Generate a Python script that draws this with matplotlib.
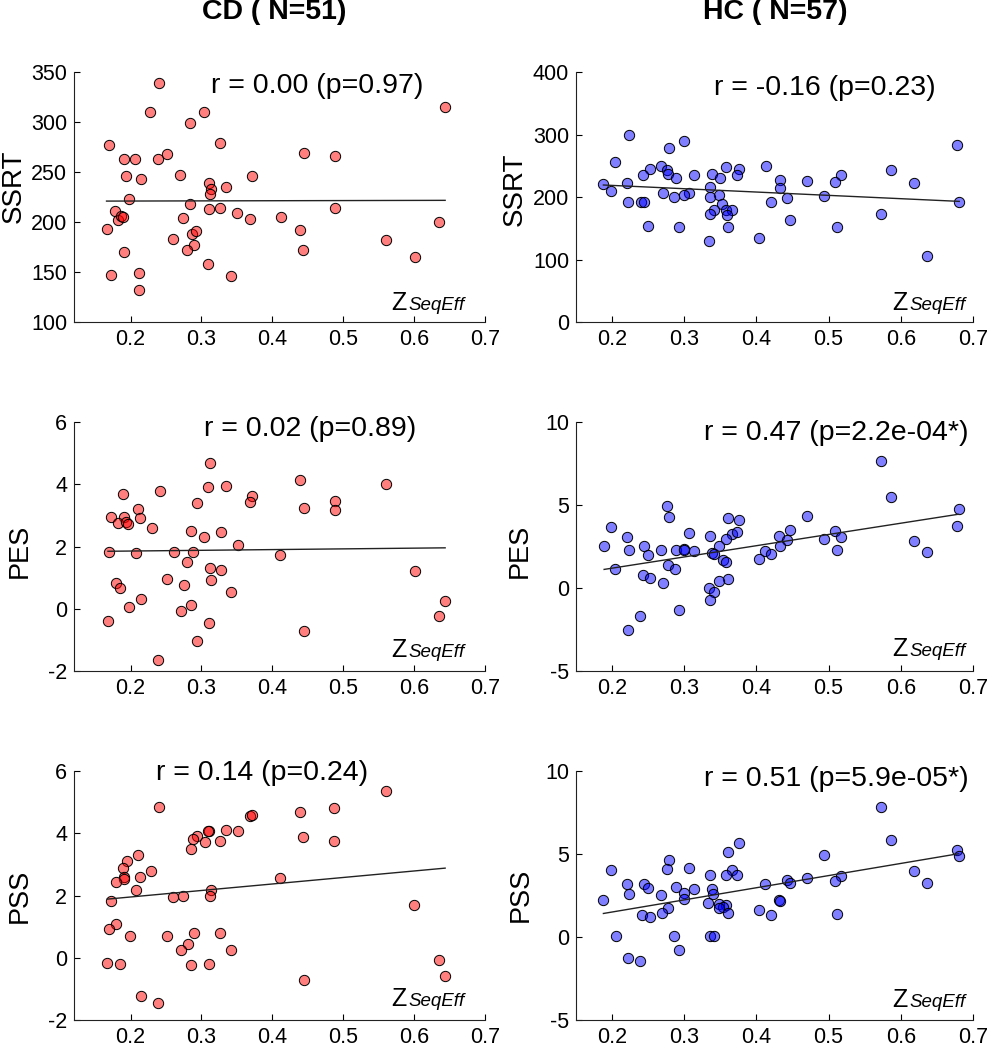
import numpy as np
import matplotlib
matplotlib.use('Agg')
import matplotlib.pyplot as plt

matplotlib.rcParams['font.family'] = ['Liberation Sans', 'DejaVu Sans']
matplotlib.rcParams['axes.unicode_minus'] = False

# ---- CD group (N=51) ----
cd_ssrt_x = [0.240, 0.228, 0.304, 0.284, 0.644, 0.169, 0.326, 0.190, 0.206, 0.238,
             0.252, 0.445, 0.488, 0.194, 0.214, 0.270, 0.371, 0.311, 0.334, 0.313,
             0.312, 0.198, 0.178, 0.182, 0.186, 0.189, 0.284, 0.310, 0.326, 0.350,
             0.274, 0.368, 0.412, 0.488, 0.636, 0.166, 0.439, 0.286, 0.293, 0.260,
             0.290, 0.280, 0.191, 0.444, 0.561, 0.601, 0.309, 0.172, 0.212, 0.341,
             0.212]
cd_ssrt_y = [339, 310, 310, 299, 315, 277, 279, 263, 263, 263,
             268, 269, 266, 246, 243, 247, 246, 239, 235, 233,
             228, 223, 211, 202, 206, 205, 218, 213, 214, 209,
             204, 203, 205, 214, 200, 193, 192, 188, 191, 183,
             177, 172, 170, 172, 182, 165, 158, 147, 149, 146,
             132]

cd_pes_x = [0.312, 0.439, 0.561, 0.309, 0.335, 0.241, 0.189, 0.371, 0.368, 0.294,
            0.445, 0.488, 0.488, 0.172, 0.211, 0.213, 0.191, 0.182, 0.193, 0.196,
            0.230, 0.285, 0.327, 0.304, 0.352, 0.170, 0.207, 0.261, 0.288, 0.411,
            0.280, 0.312, 0.327, 0.601, 0.251, 0.313, 0.179, 0.185, 0.275, 0.341,
            0.215, 0.644, 0.198, 0.285, 0.271, 0.168, 0.311, 0.636, 0.445, 0.294,
            0.239]
cd_pes_y = [4.68, 4.14, 3.99, 3.90, 3.94, 3.78, 3.69, 3.61, 3.44, 3.40,
            3.24, 3.47, 3.16, 2.95, 3.20, 2.91, 2.96, 2.74, 2.77, 2.71,
            2.59, 2.50, 2.46, 2.31, 2.06, 1.84, 1.80, 1.84, 1.83, 1.72,
            1.51, 1.30, 1.26, 1.21, 0.97, 0.93, 0.82, 0.68, 0.77, 0.54,
            0.33, 0.26, 0.05, 0.12, -0.08, -0.37, -0.44, -0.22, -0.70, -1.02,
            -1.62]

cd_pss_x = [0.561, 0.240, 0.487, 0.439, 0.369, 0.371, 0.444, 0.487, 0.311, 0.309,
            0.335, 0.351, 0.294, 0.288, 0.305, 0.326, 0.285, 0.211, 0.195, 0.189,
            0.229, 0.213, 0.191, 0.190, 0.180, 0.411, 0.207, 0.313, 0.312, 0.260,
            0.274, 0.172, 0.600, 0.179, 0.169, 0.199, 0.252, 0.289, 0.326, 0.281,
            0.271, 0.341, 0.167, 0.185, 0.285, 0.311, 0.636, 0.644, 0.445, 0.215,
            0.238]
cd_pss_y = [5.36, 4.83, 4.81, 4.66, 4.54, 4.57, 3.89, 3.74, 4.06, 4.08,
            4.10, 4.08, 3.90, 3.80, 3.72, 3.76, 3.50, 3.30, 3.12, 2.88,
            2.79, 2.60, 2.58, 2.54, 2.43, 2.55, 2.18, 2.18, 2.00, 1.96,
            1.98, 1.84, 1.69, 1.10, 0.93, 0.71, 0.69, 0.81, 0.79, 0.45,
            0.27, 0.26, -0.17, -0.19, -0.21, -0.18, -0.07, -0.56, -0.71, -1.23,
            -1.45]

# ---- HC group (N=57) ----
hc_ssrt_x = [0.224, 0.300, 0.279, 0.678, 0.204, 0.268, 0.413, 0.358, 0.252, 0.376,
             0.587, 0.276, 0.277, 0.243, 0.313, 0.339, 0.373, 0.517, 0.349, 0.288,
             0.432, 0.188, 0.220, 0.470, 0.509, 0.618, 0.336, 0.432, 0.199, 0.270,
             0.306, 0.300, 0.348, 0.336, 0.286, 0.443, 0.493, 0.222, 0.240, 0.244,
             0.681, 0.420, 0.352, 0.341, 0.358, 0.366, 0.335, 0.359, 0.573, 0.250,
             0.293, 0.360, 0.511, 0.446, 0.334, 0.404, 0.637]
hc_ssrt_y = [300, 290, 279, 283, 256, 250, 250, 248, 245, 245,
             244, 243, 237, 235, 236, 237, 236, 235, 231, 230,
             227, 221, 223, 225, 224, 223, 216, 215, 209, 207,
             207, 204, 203, 200, 200, 199, 202, 192, 192, 192,
             192, 192, 189, 179, 180, 180, 173, 172, 173, 153,
             152, 152, 152, 164, 130, 135, 106]

hc_pes_x = [0.573, 0.587, 0.276, 0.279, 0.680, 0.470, 0.360, 0.376, 0.678, 0.199,
            0.446, 0.509, 0.306, 0.366, 0.373, 0.431, 0.335, 0.220, 0.517, 0.358,
            0.442, 0.493, 0.618, 0.189, 0.244, 0.348, 0.432, 0.224, 0.268, 0.288,
            0.299, 0.300, 0.314, 0.412, 0.511, 0.637, 0.339, 0.341, 0.250, 0.420,
            0.404, 0.353, 0.358, 0.277, 0.287, 0.204, 0.243, 0.253, 0.360, 0.348,
            0.270, 0.334, 0.341, 0.336, 0.293, 0.239, 0.222]
hc_pes_y = [7.64, 5.45, 4.94, 4.29, 4.78, 4.31, 4.19, 4.09, 3.74, 3.66,
            3.50, 3.44, 3.31, 3.27, 3.37, 3.13, 3.13, 3.05, 3.09, 2.93,
            2.91, 2.95, 2.85, 2.54, 2.54, 2.52, 2.52, 2.32, 2.30, 2.32,
            2.38, 2.30, 2.22, 2.26, 2.32, 2.20, 2.11, 2.03, 1.99, 2.07,
            1.77, 1.69, 1.57, 1.40, 1.18, 1.18, 0.81, 0.61, 0.55, 0.41,
            0.30, 0.00, -0.22, -0.69, -1.30, -1.67, -2.50]

hc_pss_x = [0.573, 0.587, 0.376, 0.360, 0.678, 0.680, 0.493, 0.279, 0.276, 0.306,
            0.199, 0.366, 0.618, 0.335, 0.358, 0.373, 0.470, 0.517, 0.509, 0.442,
            0.446, 0.637, 0.412, 0.220, 0.244, 0.250, 0.288, 0.314, 0.338, 0.224,
            0.300, 0.340, 0.268, 0.299, 0.188, 0.431, 0.432, 0.333, 0.348, 0.358,
            0.353, 0.278, 0.348, 0.404, 0.360, 0.242, 0.252, 0.269, 0.420, 0.511,
            0.205, 0.286, 0.336, 0.341, 0.293, 0.222, 0.238]
hc_pss_y = [7.82, 5.86, 5.63, 5.09, 5.21, 4.89, 4.93, 4.62, 4.12, 4.16,
            4.02, 4.04, 4.00, 3.73, 3.75, 3.75, 3.55, 3.67, 3.39, 3.45,
            3.27, 3.27, 3.17, 3.17, 3.19, 2.93, 2.99, 2.88, 2.90, 2.60,
            2.66, 2.62, 2.54, 2.30, 2.24, 2.24, 2.20, 2.08, 2.00, 1.91,
            1.83, 1.77, 1.73, 1.63, 1.43, 1.35, 1.23, 1.43, 1.33, 1.41,
            0.05, 0.09, 0.10, 0.05, -0.79, -1.26, -1.40]

row_labels = ['SSRT', 'PES', 'PSS']
cd_stats = ['r = 0.00 (p=0.97)', 'r = 0.02 (p=0.89)', 'r = 0.14 (p=0.24)']
hc_stats = ['r = -0.16 (p=0.23)', 'r = 0.47 (p=2.2e-04*)', 'r = 0.51 (p=5.9e-05*)']
cd_yticks = [[100, 150, 200, 250, 300, 350], [-2, 0, 2, 4, 6], [-2, 0, 2, 4, 6]]
hc_yticks = [[0, 100, 200, 300, 400], [-5, 0, 5, 10], [-5, 0, 5, 10]]
xticks = [0.2, 0.3, 0.4, 0.5, 0.6, 0.7]

cd_data = [(cd_ssrt_x, cd_ssrt_y), (cd_pes_x, cd_pes_y), (cd_pss_x, cd_pss_y)]
hc_data = [(hc_ssrt_x, hc_ssrt_y), (hc_pes_x, hc_pes_y), (hc_pss_x, hc_pss_y)]

W, H = 990, 1050
fig = plt.figure(figsize=(W / 100, H / 100), dpi=100)

row_bottoms = [0.6933, 0.3605, 0.0281]
row_h = 0.238
label_size = [20, 19.5, 19.5]
cols = [dict(left=0.0747, width=0.415, data=cd_data, yt=cd_yticks, stats=cd_stats,
             face=(1, 0, 0, 0.5), xmin=0.12, zx=0.772, zy=[0.048, 0.058, 0.058],
             lab=[(14, 186), (20, 551), (20, 896)],
             stat_pos=[(0.593, 0.944), (0.574, 0.972), (0.457, 0.99)]),
        dict(left=0.5818, width=0.401, data=hc_data, yt=hc_yticks, stats=hc_stats,
             face=(0, 0, 1, 0.5), xmin=0.15, zx=0.796, zy=[0.05, 0.062, 0.055],
             lab=[(515, 189), (520, 551), (521, 895)],
             stat_pos=[(0.628, 0.937), (0.655, 0.953), (0.655, 0.968)])]

for c in cols:
    for i in range(3):
        ax = fig.add_axes([c['left'], row_bottoms[i], c['width'], row_h])
        x = np.array(c['data'][i][0])
        y = np.array(c['data'][i][1])
        ax.scatter(x, y, s=55, facecolors=[c['face']], edgecolors='k', linewidths=0.7, zorder=2)
        # least-squares line over the data range
        k, b = np.polyfit(x, y, 1)
        xl = np.array([x.min(), x.max()])
        ax.plot(xl, k * xl + b, color='#222222', lw=1.0, zorder=3)
        yt = c['yt'][i]
        ax.set_xlim(c['xmin'], 0.7)
        ax.set_ylim(yt[0], yt[-1])
        ax.set_xticks(xticks)
        ax.set_xticklabels(['%.1f' % t for t in xticks])
        ax.set_yticks(yt)
        ax.spines['top'].set_visible(False)
        ax.spines['right'].set_visible(False)
        for s in ['left', 'bottom']:
            ax.spines[s].set_linewidth(0.8)
            ax.spines[s].set_color('#222222')
        ax.tick_params(direction='in', length=4, width=0.8, labelsize=15.5, pad=5)
        ax.set_ylabel(row_labels[i], fontsize=label_size[i], va='center')
        lx, ly = c['lab'][i]
        ax.yaxis.set_label_coords(lx / W, 1 - ly / H, transform=fig.transFigure)
        px, py = c['stat_pos'][i]
        ax.text(px, py, c['stats'][i], transform=ax.transAxes, ha='center', va='center', fontsize=20.5)
        ax.text(c['zx'], c['zy'][i], 'Z', transform=ax.transAxes, ha='left', va='baseline', fontsize=18)
        ax.annotate('SeqEff', xy=(c['zx'], c['zy'][i]), xycoords='axes fraction',
                    xytext=(12.5, 0), textcoords='offset points',
                    ha='left', va='baseline', fontsize=13.5, fontstyle='italic')

fig.text(274.5 / W, 1 - 19 / H, 'CD ( N=51)', ha='center', va='baseline', fontsize=20.5, fontweight='bold')
fig.text(775.5 / W, 1 - 19 / H, 'HC ( N=57)', ha='center', va='baseline', fontsize=20.5, fontweight='bold')

fig.savefig('out.png', dpi=100)
